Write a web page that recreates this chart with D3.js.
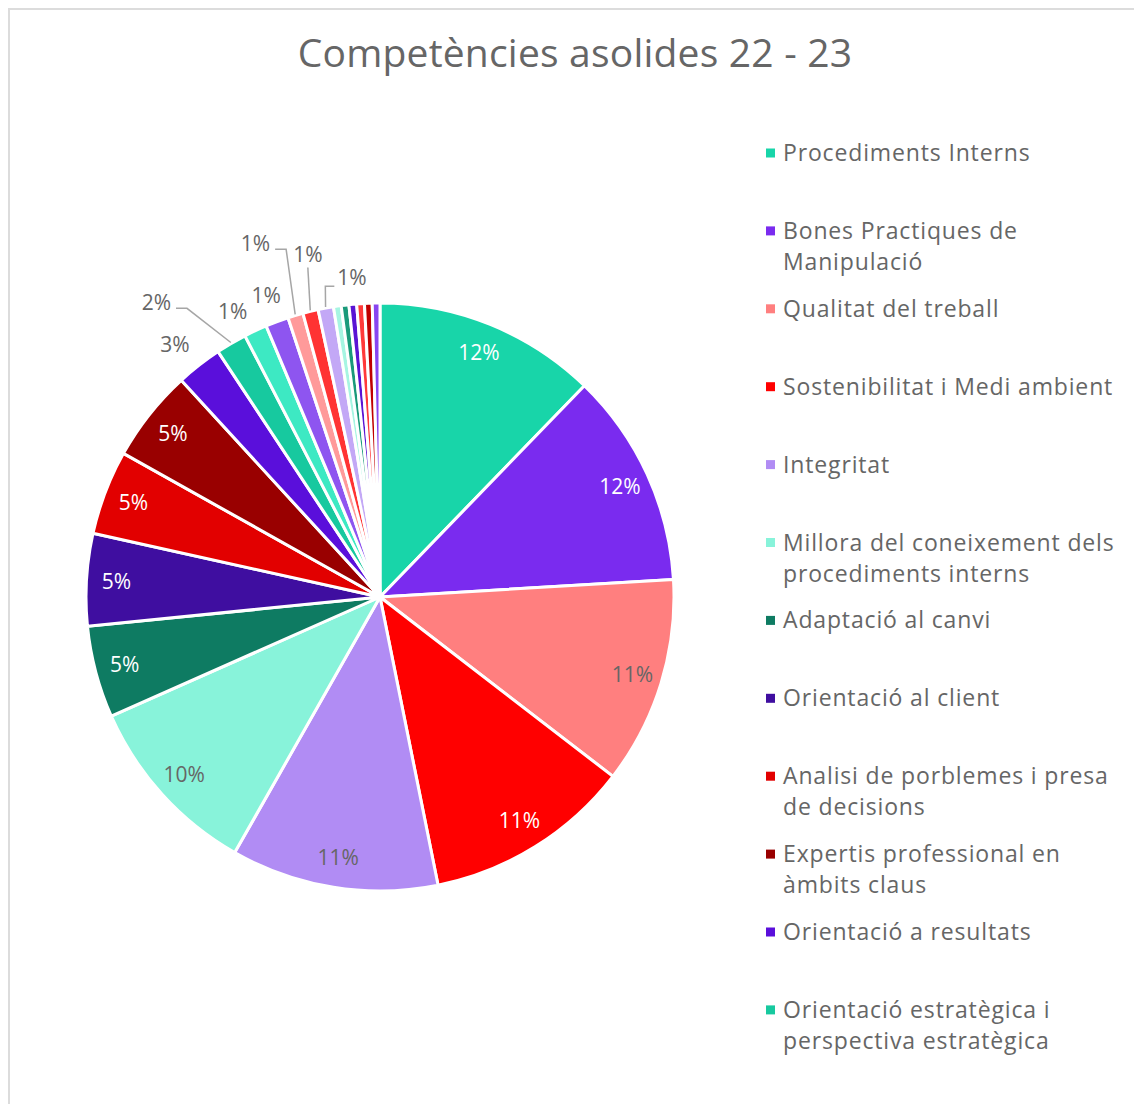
<!DOCTYPE html>
<html>
<head>
<meta charset="utf-8">
<script src="https://cdn.jsdelivr.net/npm/d3@7/dist/d3.min.js"></script>
<style>
  html, body { margin: 0; padding: 0; background: #fff; }
  svg { display: block; }
  text { font-family: "Open Sans", "Noto Sans", sans-serif; }
</style>
</head>
<body>
<svg id="chart" width="1134" height="1104"></svg>
<script>
// ---- data ----
const title = "Competències asolides 22 - 23";
const categories = [
  "Procediments Interns",
  "Bones Practiques de Manipulació",
  "Qualitat del treball",
  "Sostenibilitat i Medi ambient",
  "Integritat",
  "Millora del coneixement dels procediments interns",
  "Adaptació al canvi",
  "Orientació al client",
  "Analisi de porblemes i presa de decisions",
  "Expertis professional en àmbits claus",
  "Orientació a resultats",
  "Orientació estratègica i perspectiva estratègica",
  "Competència 13", "Competència 14", "Competència 15", "Competència 16",
  "Competència 17", "Competència 18", "Competència 19", "Competència 20",
  "Competència 21", "Competència 22", "Competència 23"
];
const values = [29, 28, 27, 27, 27, 24, 12, 12, 11, 12, 6, 4, 3, 3, 2, 2, 2, 1, 1, 1, 1, 1, 1];
const colors = [
  "#18D5A9", "#7A2BEF", "#FF7F7F", "#FF0000", "#B18CF4", "#88F3DA",
  "#0E7B62", "#3F0EA0", "#E20000", "#990000", "#5A0FDB", "#17C99F",
  "#3DE9C3", "#8E55F0", "#FF9A9A", "#FF3333", "#C3A8F6", "#A6F5E2",
  "#1A9A7A", "#5A14D4", "#FF3A3A", "#C00000", "#8845F0"
];
// legend wrapped lines (as in the reference)
const legendLines = [
  ["Procediments Interns"],
  ["Bones Practiques de", "Manipulació"],
  ["Qualitat del treball"],
  ["Sostenibilitat i Medi ambient"],
  ["Integritat"],
  ["Millora del coneixement dels", "procediments interns"],
  ["Adaptació al canvi"],
  ["Orientació al client"],
  ["Analisi de porblemes i presa", "de decisions"],
  ["Expertis professional en", "àmbits claus"],
  ["Orientació a resultats"],
  ["Orientació estratègica i", "perspectiva estratègica"]
];

// ---- layout ----
const svg = d3.select("#chart");
const cx = 380, cy = 597, R = 294;
const textGray = "#666666";
const darkLabel = new Set([0, 1, 3, 6, 7, 8, 9]);

// frame
svg.append("path").attr("d", "M9,1104 V9 H1134").attr("fill", "none")
  .attr("stroke", "#DCDCDC").attr("stroke-width", 2);

svg.append("text").attr("x", 575).attr("y", 67).attr("text-anchor", "middle")
  .attr("font-size", 39).attr("letter-spacing", 0.2).attr("fill", textGray).text(title);

const data = values.map((v, i) => ({ v, i, name: categories[i] }));
const total = d3.sum(values);
const pie = d3.pie().value(d => d.v).sort(null);
const arcs = pie(data);
const arc = d3.arc().innerRadius(0).outerRadius(R);
const fmt = d3.format(".0%");

const g = svg.append("g").attr("transform", `translate(${cx},${cy})`);
g.selectAll("path.slice").data(arcs).enter().append("path")
  .attr("class", "slice")
  .attr("d", arc)
  .attr("fill", d => colors[d.data.i])
  .attr("stroke", "#fff").attr("stroke-width", 3).attr("stroke-linejoin", "round");

// label placement rules
const inside = d3.arc().innerRadius(264).outerRadius(264);
const outsidePlain = { 10: [325, -39.1], 12: [321, -27.3], 13: [322, -20.7] }; // polar (radius, angle deg)
const leaderLabels = {                                                         // polar (radius, angle deg)
  11: [370, -37.2], 14: [375, -19.4], 15: [350, -11.9], 16: [321, -5.0]
};
const toXY = (r, a) => [r * Math.sin(a), -r * Math.cos(a)];
const rad = a => a * Math.PI / 180;
const lbl = g.append("g");
const labelSize = 21;
arcs.forEach(d => {
  const p = d.data.v / total;
  if (p < 0.005) return;
  const txt = fmt(p);
  const mid = (d.startAngle + d.endAngle) / 2;
  const i = d.data.i;
  if (i <= 9) {
    const [x, y] = inside.centroid(d);
    lbl.append("text").attr("x", x).attr("y", y).attr("dy", "0.35em")
      .attr("text-anchor", "middle").attr("font-size", labelSize)
      .attr("fill", darkLabel.has(i) ? "#fff" : textGray).text(txt);
  } else if (outsidePlain[i]) {
    const [r, a] = outsidePlain[i];
    const [x, y] = toXY(r, rad(a));
    lbl.append("text").attr("x", x).attr("y", y).attr("dy", "0.35em")
      .attr("text-anchor", "middle").attr("font-size", labelSize).attr("fill", textGray).text(txt);
  } else if (leaderLabels[i]) {
    const [lr, la] = leaderLabels[i];
    const [x, y] = toXY(lr, rad(la));
    const t = lbl.append("text").attr("x", x).attr("y", y).attr("dy", "0.35em")
      .attr("text-anchor", "middle").attr("font-size", labelSize).attr("fill", textGray).text(txt);
    const w = t.node().getComputedTextLength();
    const [px, py] = toXY(R + 1, mid);
    let pts;
    if (Math.abs(px - x) < 15) {
      pts = [[x, y + 13], [px, py]];
    } else if (x < px) {
      const sx = x + w / 2 + 5, sy = y + 6;
      pts = [[sx, sy], [sx + 11, sy], [px, py]];
    } else {
      const sx = x - w / 2 - 3, sy = y + 9;
      pts = [[sx, sy], [sx - 9, sy], [px, py]];
    }
    lbl.insert("path", "text").attr("d", d3.line()(pts)).attr("fill", "none")
      .attr("stroke", "#A6A6A6").attr("stroke-width", 1.5);
  }
});

// legend
const legY0 = 153, legStep = 77.9, lineH = 31;
const leg = svg.append("g");
legendLines.forEach((lines, i) => {
  const y = legY0 + i * legStep;
  leg.append("rect").attr("x", 766).attr("y", y - 4.5).attr("width", 9).attr("height", 9)
    .attr("fill", colors[i]);
  lines.forEach((ln, k) => {
    leg.append("text").attr("x", 783).attr("y", y + k * lineH).attr("dy", "0.35em")
      .attr("font-size", 23).attr("letter-spacing", 0.85).attr("fill", textGray).text(ln);
  });
});
</script>
</body>
</html>
